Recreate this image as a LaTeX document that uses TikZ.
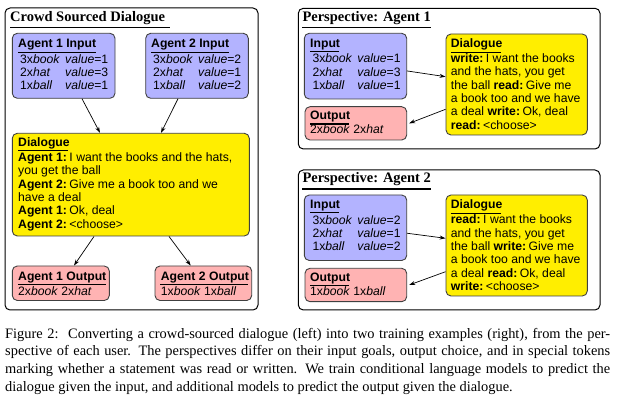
\documentclass[tikz,border=0pt]{standalone}
\usepackage{fontspec}
\setmainfont{Liberation Serif}
\setsansfont{Liberation Sans}
\usetikzlibrary{arrows.meta,fit}
\definecolor{inblue}{RGB}{179,179,255}
\definecolor{dyellow}{RGB}{255,238,0}
\definecolor{outpink}{RGB}{255,179,179}
\definecolor{bordergray}{RGB}{64,64,64}
\newcommand\irow[2]{\makebox[45pt][l]{#1}#2}
\newcommand\colsp{\hspace{2.5pt}}
\newcommand\choosetok{\textless choose\textgreater}
\tikzset{
 outerbox/.style={draw=black, line width=1pt, rounded corners=5pt, inner sep=0pt},
 boxbase/.style={draw=bordergray, line width=0.9pt, rounded corners=5pt, inner sep=0pt},
 inbox/.style={boxbase, fill=inblue},
 dlgbox/.style={boxbase, fill=dyellow},
 outbox/.style={boxbase, fill=outpink},
 txt/.style={anchor=base west, inner sep=0pt, font=\sffamily\fontsize{12.2}{13.3}\selectfont, align=left},
 hd/.style={txt, font=\sffamily\bfseries\fontsize{12.2}{13.3}\selectfont},
 ttl/.style={anchor=base west, inner sep=0pt, font=\bfseries\fontsize{14.5}{17}\selectfont},
 uline/.style={line width=1.1pt},
 tline/.style={line width=1.6pt},
 arr/.style={-{Stealth[length=6pt,width=4pt]}, line width=0.7pt},
}
\begin{document}
\begin{tikzpicture}[x=1pt,y=-1pt]
\useasboundingbox (0,0) rectangle (621,403);
\fill[white] (0,0) rectangle (621,403);
% ---------------- Left panel (multi-line nodes are placed by their last baseline)
\node[outerbox, fit={(5,8) (258,310)}] (L) {};
\node[ttl] (Lt) at (10,21.7) {Crowd Sourced Dialogue};
\draw[tline] (10,27.7) -- (170,27.7);
\node[inbox, fit={(12.3,33.3) (115,98.3)}] (a1in) {};
\node[hd] (a1inh) at (18,48) {Agent 1 Input};
\draw[uline] (18,52.3) -- (96,52.3);
\node[txt] (a1inr) at (20,89.8) {\irow{3x\textit{book}}{\textit{value}=1}\\\irow{2x\textit{hat}}{\textit{value}=3}\\\irow{1x\textit{ball}}{\textit{value}=1}};
\node[inbox, fit={(145.7,33.3) (248.3,98.3)}] (a2in) {};
\node[hd] (a2inh) at (151,48) {Agent 2 Input};
\draw[uline] (151,52.3) -- (229.3,52.3);
\node[txt] (a2inr) at (153,89.8) {\irow{3x\textit{book}}{\textit{value}=2}\\\irow{2x\textit{hat}}{\textit{value}=1}\\\irow{1x\textit{ball}}{\textit{value}=2}};
\node[dlgbox, fit={(12.3,133.3) (249.3,236)}] (dlg) {};
\node[hd] (dlgh) at (18,146.7) {Dialogue};
\draw[uline] (18,150.7) -- (68.3,150.7);
\node[txt] (dlgt) at (18,228.2) {\textbf{Agent 1:}\colsp I want the books and the hats,\\you get the ball\\\textbf{Agent 2:}\colsp Give me a book too and we\\have a deal\\\textbf{Agent 1:}\colsp Ok, deal\\\textbf{Agent 2:}\colsp \choosetok};
\node[outbox, fit={(12.3,266) (109.3,300.5)}] (a1out) {};
\node[hd] (a1outh) at (18,280) {Agent 1 Output};
\draw[uline] (18,284.3) -- (106,284.3);
\node[txt] (a1outt) at (18,295) {2x\textit{book} 2x\textit{hat}};
\node[outbox, fit={(155,266) (251.7,300.5)}] (a2out) {};
\node[hd] (a2outh) at (160.7,280) {Agent 2 Output};
\draw[uline] (160.3,284.3) -- (248.3,284.3);
\node[txt] (a2outt) at (160.7,295) {1x\textit{book} 1x\textit{ball}};
\draw[arr] ([xshift=18.35pt]a1in.south) -- ([xshift=-30.8pt]dlg.north);
\draw[arr] ([xshift=-19pt]a2in.south) -- ([xshift=30.2pt]dlg.north);
\draw[arr] ([xshift=-36.8pt]dlg.south) -- ([xshift=13.2pt]a1out.north);
\draw[arr] ([xshift=38.2pt]dlg.south) -- ([xshift=-12.65pt]a2out.north);
% ---------------- Perspective Agent 1
\node[outerbox, fit={(298.3,8.3) (600,149)}] (P1) {};
\node[ttl] (P1t) at (302.3,21.7) {Perspective: Agent 1};
\draw[tline] (302.3,27.7) -- (431,27.7);
\node[inbox, fit={(304.3,33.3) (406.7,99)}] (p1in) {};
\node[hd] (p1inh) at (310,47.7) {Input};
\draw[uline] (310,51.7) -- (339.3,51.7);
\node[txt] (p1inr) at (312.3,89.5) {\irow{3x\textit{book}}{\textit{value}=1}\\\irow{2x\textit{hat}}{\textit{value}=3}\\\irow{1x\textit{ball}}{\textit{value}=1}};
\node[outbox, fit={(305,106.7) (406.7,140)}] (p1out) {};
\node[hd] (p1outh) at (310,120) {Output};
\draw[uline] (310,124) -- (349,124);
\node[txt] (p1outt) at (310,134) {2x\textit{book} 2x\textit{hat}};
\node[dlgbox, fit={(446,34) (587.3,135)}] (p1dlg) {};
\node[hd] (p1dlgh) at (450.7,47.7) {Dialogue};
\draw[uline] (450.7,52.3) -- (500.7,52.3);
\node[txt] (p1dlgt) at (450.7,129.2) {\textbf{write:}\colsp I want the books\\and the hats, you get\\the ball \textbf{read:}\colsp Give me\\a book too and we have\\a deal \textbf{write:}\colsp Ok, deal\\\textbf{read:}\colsp \choosetok};
\draw[arr] ([yshift=-4.8pt]p1in.east) -- ([yshift=7.8pt]p1dlg.west);
\draw[arr] ([yshift=-24.8pt]p1dlg.west) -- ([xshift=2pt]p1out.east);
% ---------------- Perspective Agent 2
\node[outerbox, fit={(298.3,170) (600,310)}] (P2) {};
\node[ttl] (P2t) at (302.3,182.7) {Perspective: Agent 2};
\draw[tline] (302.3,189.3) -- (431,189.3);
\node[inbox, fit={(304.3,195) (406.7,260.5)}] (p2in) {};
\node[hd] (p2inh) at (310,209) {Input};
\draw[uline] (310,212.7) -- (339.3,212.7);
\node[txt] (p2inr) at (312.3,250.9) {\irow{3x\textit{book}}{\textit{value}=2}\\\irow{2x\textit{hat}}{\textit{value}=1}\\\irow{1x\textit{ball}}{\textit{value}=2}};
\node[outbox, fit={(305,268.3) (406.7,301.7)}] (p2out) {};
\node[hd] (p2outh) at (310,281.7) {Output};
\draw[uline] (310,285.3) -- (349,285.3);
\node[txt] (p2outt) at (310,295.7) {1x\textit{book} 1x\textit{ball}};
\node[dlgbox, fit={(446,195) (587.3,296)}] (p2dlg) {};
\node[hd] (p2dlgh) at (450.7,209) {Dialogue};
\draw[uline] (450.7,213.3) -- (500.7,213.3);
\node[txt] (p2dlgt) at (450.7,290.5) {\textbf{read:}\colsp I want the books\\and the hats, you get\\the ball \textbf{write:}\colsp Give me\\a book too and we have\\a deal \textbf{read:}\colsp Ok, deal\\\textbf{write:}\colsp \choosetok};
\draw[arr] ([yshift=-5.5pt]p2in.east) -- ([yshift=7.2pt]p2dlg.west);
\draw[arr] ([yshift=-26.2pt]p2dlg.west) -- ([xshift=2pt]p2out.east);
% ---------------- Caption
\node[anchor=base west, inner sep=0pt, text width=605pt, align=justify, font=\fontsize{14.4}{17.9}\selectfont] (cap) at (5,338) {Figure 2:\hspace{3pt} Converting a crowd-sourced dialogue (left) into two training examples (right), from the per-\linebreak spective of each user. The perspectives differ on their input goals, output choice, and in special tokens\linebreak marking whether a statement was read or written. We train conditional language models to predict the\linebreak dialogue given the input, and additional models to predict the output given the dialogue.};
\end{tikzpicture}
\end{document}
